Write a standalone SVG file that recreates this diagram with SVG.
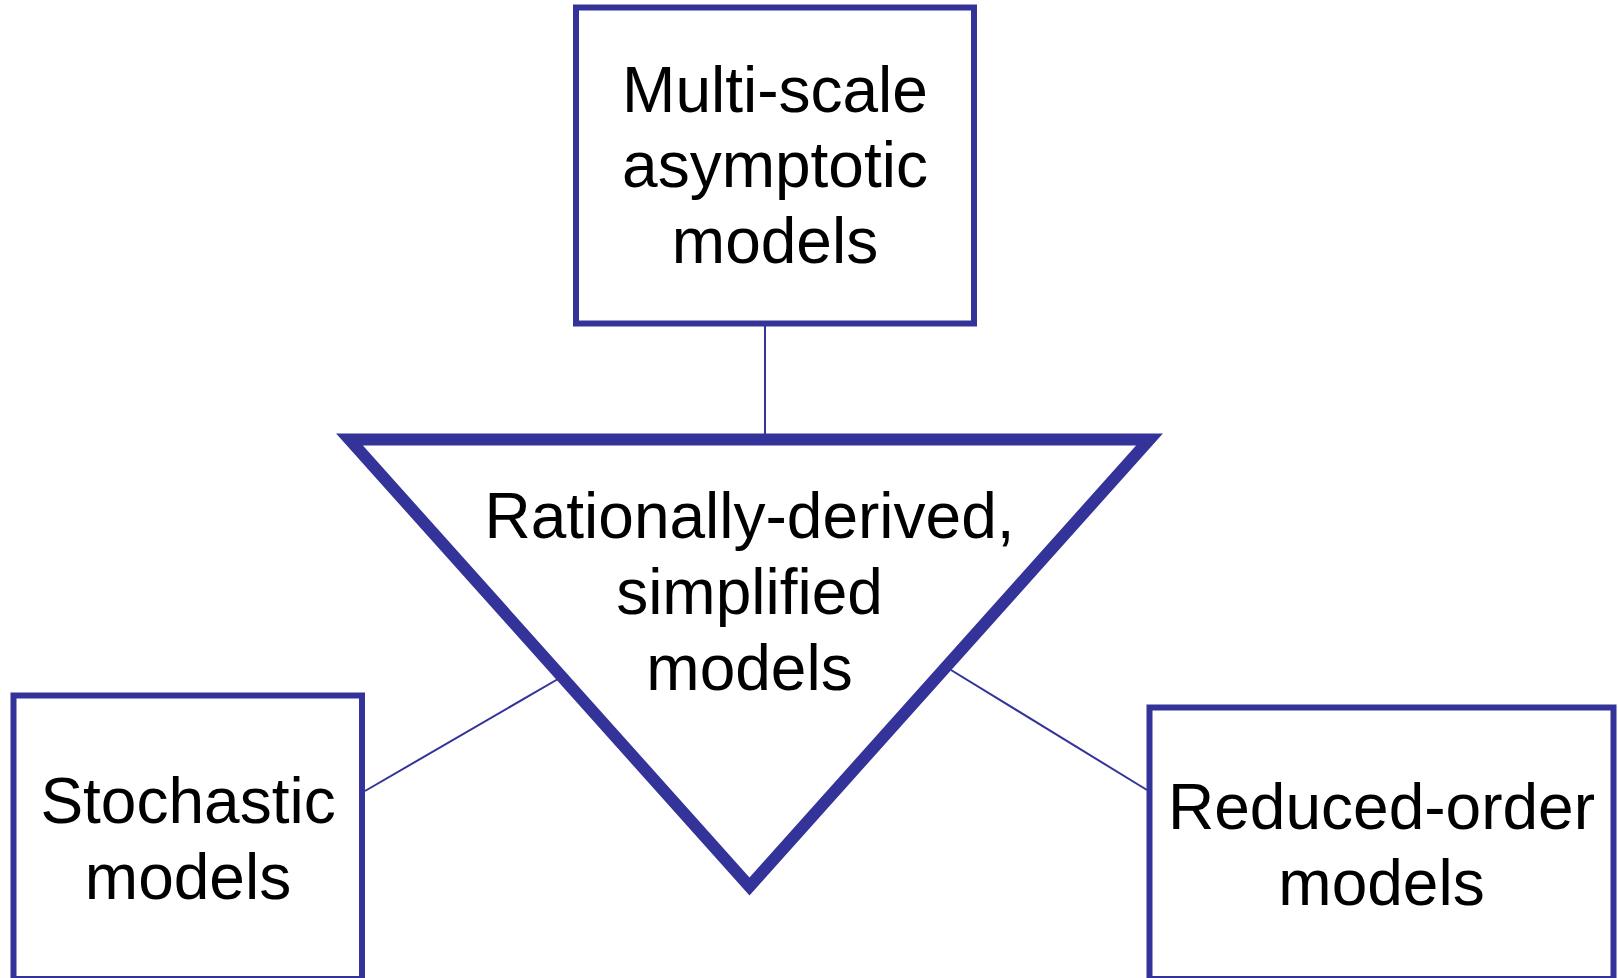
<svg xmlns="http://www.w3.org/2000/svg" width="1618" height="978" viewBox="0 0 1618 978">
<style>
.box{fill:#ffffff;stroke:#333399;stroke-width:6}
.tri{fill:#ffffff;stroke:#333399;stroke-width:12;stroke-linejoin:miter}
.conn{stroke:#333399;stroke-width:2;fill:none}
.lbl{font-family:"Liberation Sans",Arial,sans-serif;font-size:64px;fill:#000000;text-anchor:middle}
</style>
<rect width="1618" height="978" fill="#ffffff"/>
<g id="connectors">
<line class="conn" x1="765" y1="326" x2="765" y2="434"/>
<line class="conn" x1="365" y1="791" x2="558" y2="679"/>
<line class="conn" x1="951" y1="670" x2="1147" y2="790"/>
</g>
<g id="node-multiscale">
<rect class="box" x="576" y="7.5" width="398" height="316"/>
<text class="lbl" x="775" y="111.5">Multi-scale</text>
<text class="lbl" x="775" y="187">asymptotic</text>
<text class="lbl" x="775" y="263">models</text>
</g>
<g id="node-rational">
<polygon class="tri" points="349.5,439.5 1149.5,439.5 749.5,886.5"/>
<text class="lbl" x="749.5" y="537.5">Rationally-derived,</text>
<text class="lbl" x="749.5" y="613.5">simplified</text>
<text class="lbl" x="749.5" y="690">models</text>
</g>
<g id="node-stochastic">
<rect class="box" x="13.5" y="695.5" width="348.5" height="283.5"/>
<text class="lbl" x="188" y="822.5">Stochastic</text>
<text class="lbl" x="188" y="898.5">models</text>
</g>
<g id="node-reduced">
<rect class="box" x="1149.5" y="707.5" width="464" height="271.5"/>
<text class="lbl" x="1381.5" y="828.5">Reduced-order</text>
<text class="lbl" x="1381.5" y="905">models</text>
</g>
</svg>
